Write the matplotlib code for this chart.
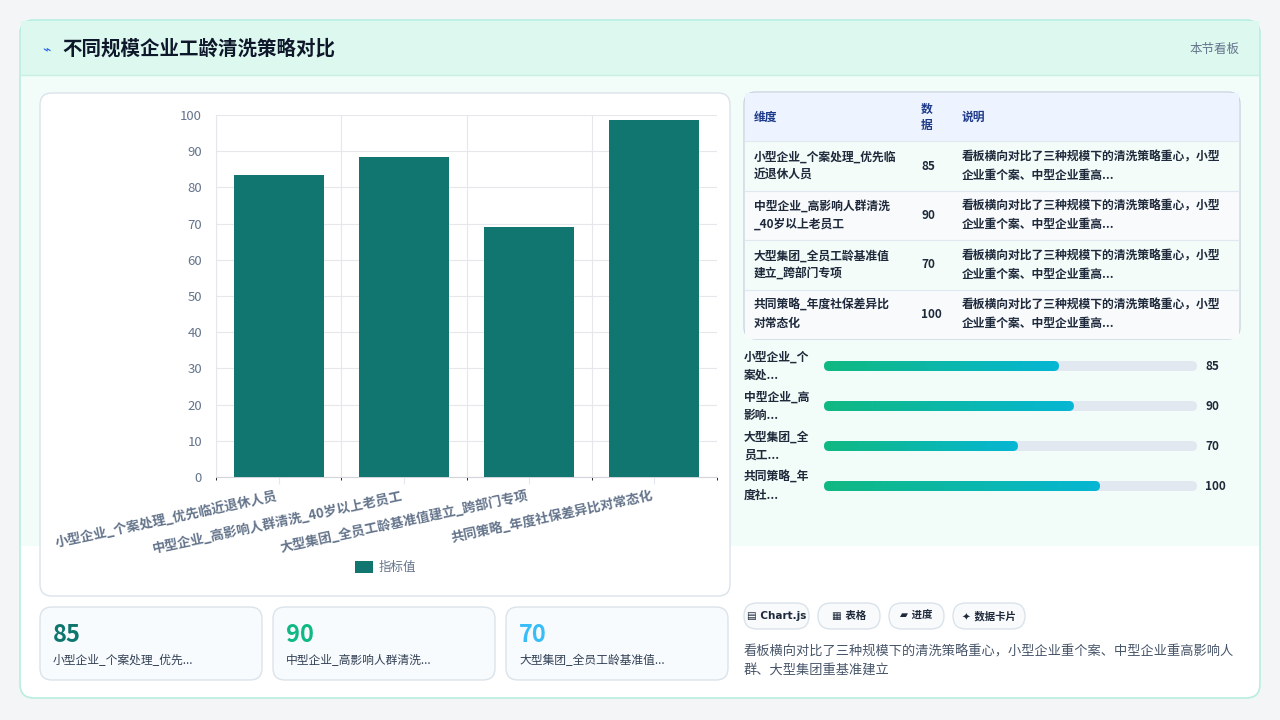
import matplotlib
matplotlib.use('Agg')
import numpy as np
import matplotlib.pyplot as plt
from matplotlib.patches import FancyBboxPatch, Rectangle

plt.rcParams['font.family'] = ['Noto Sans CJK SC', 'DejaVu Sans']

# 数据
categories = ['小型企业_个案处理_优先临近退休人员', '中型企业_高影响人群清洗_40岁以上老员工',
              '大型集团_全员工龄基准值建立_跨部门专项', '共同策略_年度社保差异比对常态化']
bar_values = [83.5, 88.5, 69, 98.5]
table_values = [85, 90, 70, 100]
table_dims = ['小型企业_个案处理_优先临\n近退休人员', '中型企业_高影响人群清洗\n_40岁以上老员工',
              '大型集团_全员工龄基准值\n建立_跨部门专项', '共同策略_年度社保差异比\n对常态化']
desc = '看板横向对比了三种规模下的清洗策略重心，小型\n企业重个案、中型企业重高...'
progress_labels = ['小型企业_个\n案处...', '中型企业_高\n影响...', '大型集团_全\n员工...', '共同策略_年\n度社...']
progress_frac = [0.63, 0.67, 0.52, 0.74]
card_values = [85, 90, 70]
card_labels = ['小型企业_个案处理_优先...', '中型企业_高影响人群清洗...', '大型集团_全员工龄基准值...']
card_colors = ['#0f766e', '#10b981', '#38bdf8']
chips = ['▤ Chart.js', '▦ 表格', '▰ 进度', '✦ 数据卡片']
summary = '看板横向对比了三种规模下的清洗策略重心，小型企业重个案、中型企业重高影响人\n群、大型集团重基准建立'

fig = plt.figure(figsize=(12.8, 7.2), dpi=100)
fig.patch.set_facecolor('#f3f5f7')
bg = fig.add_axes([0, 0, 1, 1])
bg.set_xlim(0, 1280)
bg.set_ylim(720, 0)
bg.axis('off')


def rbox(x, y, w, h, r, fc, ec='none', lw=1, z=1):
    bg.add_patch(FancyBboxPatch((x, y), w, h, boxstyle=f'round,pad=0,rounding_size={r}',
                                fc=fc, ec=ec, lw=lw, zorder=z))


# 主面板
rbox(20, 20, 1240, 678, 14, 'white', '#b7eedf', 1.2)
bg.add_patch(Rectangle((21, 21), 1238, 54, fc='#dcf8ef', ec='none', zorder=1.5))
bg.plot([21, 1259], [75, 75], color='#c8efe3', lw=1, zorder=2)
bg.text(42, 49, '⌁', color='#2563eb', fontsize=10, va='center', zorder=3)
bg.text(62, 49, '不同规模企业工龄清洗策略对比', fontsize=14, fontweight='bold',
        color='#0f172a', va='center', zorder=3)
bg.text(1239, 49, '本节看板', fontsize=9, color='#64748b', va='center', ha='right', zorder=3)
bg.add_patch(Rectangle((21, 76), 1238, 470, fc='#f2fcf8', ec='none', zorder=1.2))

# 图表卡片
rbox(40, 93, 690, 503, 12, 'white', '#dbe3ea', 1, 2)
ax = fig.add_axes([216 / 1280, 1 - 477 / 720, (717 - 216) / 1280, (477 - 115) / 720])
ax.set_zorder(5)
x = np.arange(len(categories))
ax.bar(x, bar_values, width=0.72, color='#11766f', zorder=3)
ax.set_ylim(0, 100)
ax.set_xlim(-0.5, 3.5)
ax.set_yticks(range(0, 101, 10))
ax.set_xticks(x)
ax.set_xticklabels(categories, rotation=12, ha='right', fontsize=9.5,
                   color='#64748b', fontweight='bold')
ax.tick_params(axis='y', labelsize=9.5, labelcolor='#64748b', length=0, pad=10)
ax.tick_params(axis='x', length=5, color='#e2e8f0')
ax.grid(True, color='#e5e7eb', lw=0.8, zorder=0)
ax.set_xticks([-0.5, 0.5, 1.5, 2.5, 3.5], minor=True)
ax.grid(False, axis='x')
ax.grid(True, axis='x', which='minor', color='#e5e7eb', lw=0.8)
for s in ax.spines.values():
    s.set_visible(False)
ax.spines['bottom'].set_visible(True)
ax.spines['bottom'].set_color('#d1d5db')
ax.spines['left'].set_visible(True)
ax.spines['left'].set_color('#e5e7eb')
bg.add_patch(Rectangle((355, 561), 18, 12, fc='#11766f', zorder=3))
bg.text(379, 567, '指标值', fontsize=9, color='#64748b', va='center', zorder=3)

# 数字卡片
for i in range(3):
    cx = 40 + i * 233
    rbox(cx, 607, 222, 73, 12, '#f8fbfd', '#dbe3ea', 1, 2)
    bg.text(cx + 13, 635, str(card_values[i]), fontsize=17, fontweight='bold',
            color=card_colors[i], va='center', zorder=3)
    bg.text(cx + 13, 661, card_labels[i], fontsize=8.5, color='#334155', va='center', zorder=3)

# 表格
rbox(744, 92, 496, 247, 12, 'white', '#cbd5e1', 1, 2)
bg.add_patch(Rectangle((745, 93), 494, 48, fc='#eef4ff', zorder=2.5))
bg.text(754, 117, '维度', fontsize=8.5, fontweight='bold', color='#1e3a8a', va='center', zorder=3)
bg.text(921, 117, '数\n据', fontsize=8.5, fontweight='bold', color='#1e3a8a', va='center',
        linespacing=1.3, zorder=3)
bg.text(962, 117, '说明', fontsize=8.5, fontweight='bold', color='#1e3a8a', va='center', zorder=3)
for i in range(4):
    y0 = 141 + i * 49.5
    bg.add_patch(Rectangle((745, y0), 494, 49.5, fc='#f3fcf8' if i % 2 == 0 else '#f8fafc', zorder=2.5))
    bg.plot([745, 1239], [y0, y0], color='#e2e8f0', lw=0.8, zorder=2.6)
    yc = y0 + 25
    bg.text(754, yc, table_dims[i], fontsize=8.5, fontweight='bold', color='#1e293b',
            va='center', linespacing=1.5, zorder=3)
    bg.text(921, yc, str(table_values[i]), fontsize=8.5, fontweight='bold', color='#1e293b',
            va='center', zorder=3)
    bg.text(962, yc, desc, fontsize=8.5, fontweight='bold', color='#1e293b',
            va='center', linespacing=1.5, zorder=3)

# 进度条
grad = np.linspace(0, 1, 256).reshape(1, -1)
cmap = matplotlib.colors.LinearSegmentedColormap.from_list('g', ['#10b981', '#06b6d4'])
for i in range(4):
    yc = 366 + i * 40
    bg.text(744, yc, progress_labels[i], fontsize=8.5, fontweight='bold', color='#1e293b',
            va='center', linespacing=1.5, zorder=3)
    rbox(824, yc - 5, 373, 10, 5, '#e2e8f0', z=3)
    w = 373 * progress_frac[i]
    im = bg.imshow(grad, cmap=cmap, extent=(824, 824 + w, yc + 5, yc - 5), aspect='auto', zorder=4)
    clip = FancyBboxPatch((824, yc - 5), w, 10, boxstyle='round,pad=0,rounding_size=5',
                          fc='none', ec='none', transform=bg.transData)
    bg.add_patch(clip)
    im.set_clip_path(clip)
    bg.text(1205, yc, str(table_values[i]), fontsize=8.5, fontweight='bold', color='#1e293b',
            va='center', zorder=3)
bg.set_xlim(0, 1280)
bg.set_ylim(720, 0)

# 标签
chip_x = [744, 818, 889, 953]
chip_w = [65, 62, 55, 72]
for cx, cw, t in zip(chip_x, chip_w, chips):
    rbox(cx, 603, cw, 26, 13, '#f8fafc', '#dbe3ea', 1, 2)
    bg.text(cx + cw / 2, 616, t, fontsize=7.5, fontweight='bold', color='#1e293b',
            ha='center', va='center', family=['DejaVu Sans', 'Noto Sans CJK SC'], zorder=3)
bg.text(744, 661, summary, fontsize=9.5, color='#475569', va='center', linespacing=1.6, zorder=3)

fig.savefig('out.png', dpi=100)
